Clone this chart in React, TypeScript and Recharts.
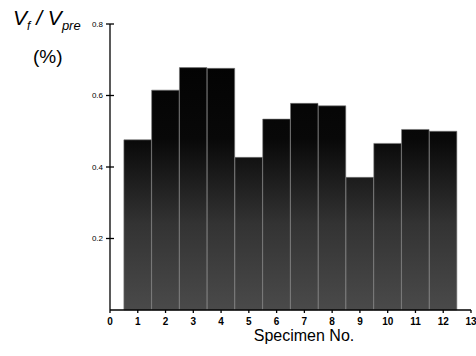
import React from 'react';
import { BarChart, Bar, XAxis, YAxis } from 'recharts';

const specimens = [1, 2, 3, 4, 5, 6, 7, 8, 9, 10, 11, 12];
const ratios = [0.476, 0.615, 0.678, 0.676, 0.427, 0.534, 0.578, 0.571, 0.371, 0.466, 0.505, 0.5];
const xTicks = [0, 1, 2, 3, 4, 5, 6, 7, 8, 9, 10, 11, 12, 13];
const yTicks = [0.2, 0.4, 0.6, 0.8];
const yTickLabels = ['0.2', '0.4', '0.6', '0.8'];

const data = specimens.map((s, i) => ({ specimen: s, ratio: ratios[i] }));

const FONT = '"Liberation Sans", Arial, sans-serif';

const YTick = (props: any) => {
  const { x, y, payload } = props;
  return (
    <g>
      <line x1={x + 4} x2={x + 12} y1={y} y2={y} stroke="#000" strokeWidth={1.3} />
      <text x={x + 1} y={y} dy="0.35em" textAnchor="end" fontSize={8} fontFamily={FONT} fill="#000">
        {yTickLabels[yTicks.indexOf(payload.value)] ?? payload.value}
      </text>
    </g>
  );
};

export default function App() {
  return (
    <div style={{ position: 'absolute', left: 0, top: 0, width: 476, height: 356, background: '#fff' }}>
      <BarChart
        width={476}
        height={356}
        data={data}
        margin={{ top: 24, right: 5, bottom: 16, left: 70 }}
        barCategoryGap={0}
        barGap={0}
      >
        <defs>
          <linearGradient id="scan" gradientUnits="userSpaceOnUse" x1="0" y1="24" x2="0" y2="310">
            <stop offset="0" stopColor="#000" />
            <stop offset="0.4" stopColor="#080808" />
            <stop offset="0.7" stopColor="#333" />
            <stop offset="1" stopColor="#4a4a4a" />
          </linearGradient>
        </defs>
        <XAxis
          dataKey="specimen"
          type="number"
          domain={[0, 13]}
          ticks={xTicks}
          interval={0}
          height={30}
          tickSize={3}
          tickMargin={5}
          axisLine={{ stroke: '#000', strokeWidth: 1.3 }}
          tickLine={{ stroke: '#000', strokeWidth: 1.3 }}
          tick={{ fontSize: 10, fontWeight: 'bold', fill: '#000', fontFamily: FONT }}
        />
        <YAxis
          type="number"
          domain={[0, 0.8]}
          ticks={yTicks}
          interval={0}
          width={40}
          axisLine={{ stroke: '#000', strokeWidth: 1.3 }}
          tickLine={false}
          tick={<YTick />}
        />
        <Bar
          dataKey="ratio"
          fill="url(#scan)"
          barSize={27.5}
          stroke="#777"
          strokeWidth={0.6}
          isAnimationActive={false}
        />
      </BarChart>
      <div
        style={{
          position: 'absolute',
          left: 13,
          top: 6,
          fontFamily: FONT,
          fontSize: 21,
          fontStyle: 'italic',
          color: '#000',
          whiteSpace: 'nowrap',
          lineHeight: '24px',
        }}
      >
        V<sub style={{ fontSize: 12 }}>f</sub> / V<sub style={{ fontSize: 13 }}>pre</sub>
      </div>
      <div
        style={{
          position: 'absolute',
          left: 33,
          top: 45,
          fontFamily: FONT,
          fontSize: 19,
          color: '#000',
          whiteSpace: 'nowrap',
          lineHeight: '24px',
        }}
      >
        (%)
      </div>
      <div
        style={{
          position: 'absolute',
          left: 200,
          width: 208,
          top: 327,
          textAlign: 'center',
          fontFamily: FONT,
          fontSize: 16,
          color: '#000',
          whiteSpace: 'nowrap',
          lineHeight: '18px',
        }}
      >
        Specimen No.
      </div>
    </div>
  );
}
